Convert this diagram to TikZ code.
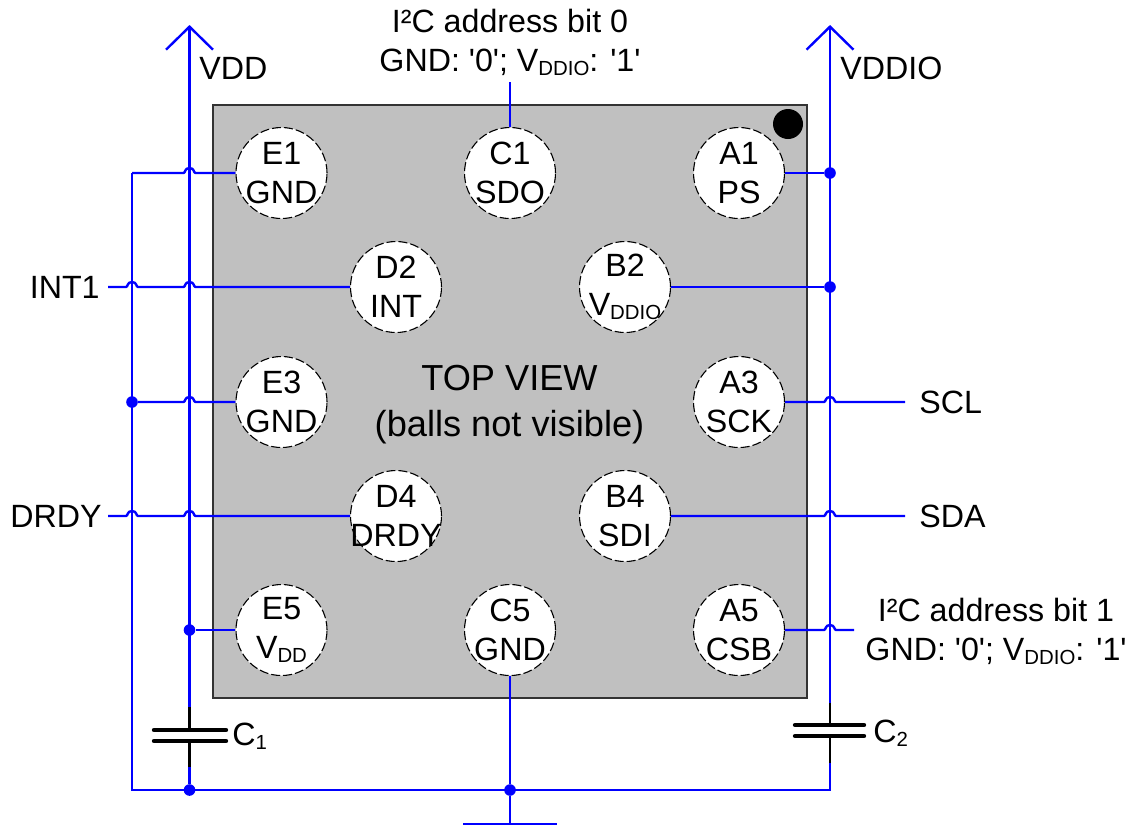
\documentclass[tikz,border=0pt]{standalone}
\usepackage{fontspec}
\usetikzlibrary{arrows.meta,calc}
\newfontfamily\labelfont{Liberation Sans}
\definecolor{wireblue}{RGB}{0,0,255}
\definecolor{boxgrey}{RGB}{192,192,192}
\newcommand{\subs}[1]{\raisebox{-2pt}{\fontsize{10.2}{10.2}\selectfont #1}}
\newcommand{\hop}[2]{-- ($(#1|-#2)+(-6,0)$) .. controls ($(#1|-#2)+(-4,0)$) and ($(#1|-#2)+(-5,-5)$) .. ($(#1|-#2)+(0,-5)$) .. controls ($(#1|-#2)+(5,-5)$) and ($(#1|-#2)+(4,0)$) .. ($(#1|-#2)+(6,0)$)}
\tikzset{
  wire/.style={draw=wireblue,line width=1.2pt},
  lead/.style={draw=black,line width=1.2pt},
  plate/.style={draw=black,line width=2.2pt,line cap=round},
  ball/.style={circle,draw=black,fill=white,line width=0.55pt,dash pattern=on 4.5pt off 1.5pt,minimum size=45.5pt,inner sep=-10pt,align=center,labeltext},
  labeltext/.style={font=\labelfont\fontsize{16.1}{19.5}\selectfont},
  junction/.style={circle,fill=wireblue,minimum size=5.8pt,inner sep=0pt},
  tag/.style={inner sep=0pt,align=center,labeltext}
}
\begin{document}
\begin{tikzpicture}[x=0.5pt,y=-0.5pt]
  \useasboundingbox (0,0) rectangle (1134,827);
  %Package outline
  \draw[fill=boxgrey,draw=black!80,line width=0.6pt] (213,105) rectangle (807,698);
  \fill[black] (788,124) circle (7.5pt);
  %Balls
  \node[ball] (E1) at (281.5,173) {E1\\GND};
  \node[ball] (C1) at (510,173) {C1\\SDO};
  \node[ball] (A1) at (739,173) {A1\\PS};
  \node[ball] (D2) at (396,287) {D2\\INT};
  \node[ball] (B2) at (625,287) {B2\\V\subs{DDIO}};
  \node[ball] (E3) at (281.5,402) {E3\\GND};
  \node[ball] (A3) at (739,402) {A3\\SCK};
  \node[ball] (D4) at (396,516) {D4\\DRDY};
  \node[ball] (B4) at (625,516) {B4\\SDI};
  \node[ball] (E5) at (281.5,630) {E5\\V\subs{DD}};
  \node[ball] (C5) at (510,630) {C5\\GND};
  \node[ball] (A5) at (739,630) {A5\\CSB};
  \node[tag,font=\labelfont\fontsize{18.1}{23}\selectfont] (view) at (509.5,404.5) {TOP VIEW\\(balls not visible)};
  %Rails
  \coordinate (vdd) at (189.5,25);
  \coordinate (vddio) at (830,25);
  \coordinate (rail) at (132,173);
  \coordinate (corner) at (132,790);
  \coordinate (cornerr) at (830,790);
  \coordinate (ctwotop) at (830,703);
  \coordinate (ctwobot) at (830,763);
  \coordinate (conetop) at (189.5,707);
  \coordinate (conebot) at (189.5,767);
  %Junctions
  \node[junction] (jA1) at (vddio |- A1.east) {};
  \node[junction] (jB2) at (vddio |- B2.east) {};
  \node[junction] (jE3) at (rail |- E3.west) {};
  \node[junction] (jE5) at (vdd |- E5.west) {};
  \node[junction] (jC1) at (189.5,790) {};
  \node[junction] (jC5) at (510,790) {};
  %Supply lines
  \draw[wire,-{Straight Barb[length=11.5pt,width=23.5pt]}] (conetop) -- (vdd);
  \draw[wire,-{Straight Barb[length=11.5pt,width=23.5pt]}] (ctwotop) -- (vddio);
  \draw[wire] (rail) -- (corner) -- (cornerr) -- (ctwobot);
  \draw[wire] (conebot) -- (jC1);
  %Capacitors
  \draw[lead] (conetop) -- (189.5,730);
  \draw[lead] (189.5,741) -- (conebot);
  \draw[plate] (154,730) -- (226,730);
  \draw[plate] (154,741) -- (226,741);
  \draw[lead] (ctwotop) -- (830,725);
  \draw[lead] (830,736) -- (ctwobot);
  \draw[plate] (795,725) -- (864,725);
  \draw[plate] (795,736) -- (864,736);
  %Signal labels
  \node[tag] (addr0) at (510,42) {I²C address bit 0\\GND: '0'; V\subs{DDIO}: '1'};
  \node[tag] (addr1) at (996,631) {I²C address bit 1\\GND: '0'; V\subs{DDIO}: '1'};
  \node[tag,anchor=west] (lvdd) at (199,68) {VDD};
  \node[tag,anchor=west] (lvddio) at (840,68) {VDDIO};
  \node[tag,anchor=east] (INT1) at (100,287) {INT1};
  \node[tag,anchor=east] (DRDY) at (102,516) {DRDY};
  \node[tag,anchor=west] (SCL) at (919,402) {SCL};
  \node[tag,anchor=west] (SDA) at (919,516) {SDA};
  \node[tag,anchor=west] (cone) at (232,736) {C\subs{1}};
  \node[tag,anchor=west] (ctwo) at (873,733) {C\subs{2}};
  %Free ends
  \coordinate (intend) at (108,287);
  \coordinate (drdyend) at (108,516);
  \coordinate (sclend) at (905,402);
  \coordinate (sdaend) at (905,516);
  \coordinate (csbend) at (854,630);
  \coordinate (sdoend) at (510,82);
  \coordinate (gndend) at (510,824);
  %Ball wiring
  \draw[wire] (rail) \hop{vdd}{E1.west} -- (E1.west);
  \draw[wire] (intend) \hop{rail}{D2.west} \hop{vdd}{D2.west} -- (D2.west);
  \draw[wire] (jE3) \hop{vdd}{E3.west} -- (E3.west);
  \draw[wire] (drdyend) \hop{rail}{D4.west} \hop{vdd}{D4.west} -- (D4.west);
  \draw[wire] (jE5) -- (E5.west);
  \draw[wire] (A1.east) -- (jA1);
  \draw[wire] (B2.east) -- (jB2);
  \draw[wire] (A3.east) \hop{vddio}{A3.east} -- (sclend);
  \draw[wire] (B4.east) \hop{vddio}{B4.east} -- (sdaend);
  \draw[wire] (A5.east) \hop{vddio}{A5.east} -- (csbend);
  \draw[wire] (C1.north) -- (sdoend);
  \draw[wire] (C5.south) -- (jC5) -- (gndend);
  \draw[wire] (463,824) -- (gndend) -- (557,824);
\end{tikzpicture}
\end{document}
